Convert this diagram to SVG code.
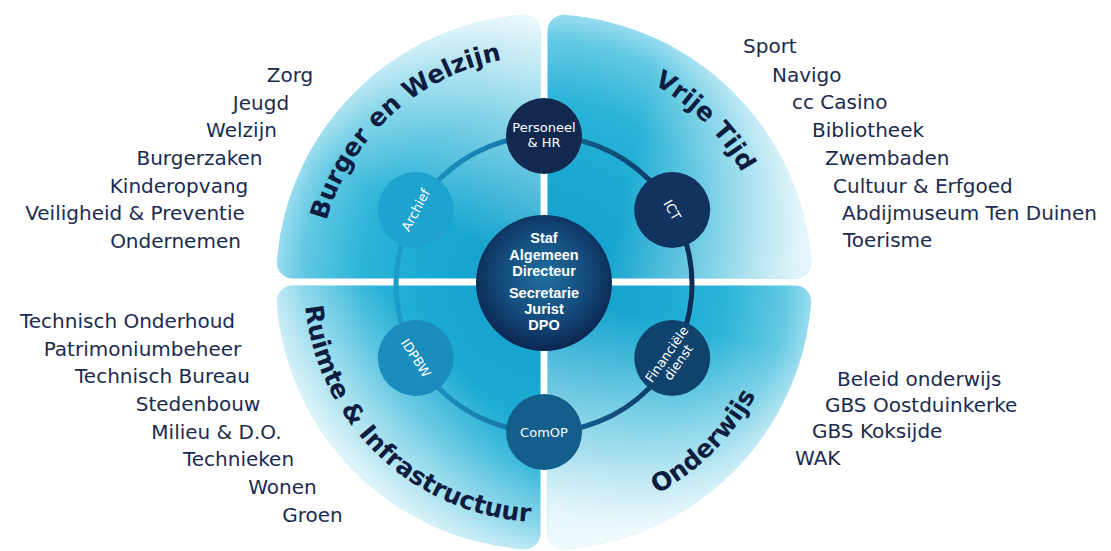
<svg xmlns="http://www.w3.org/2000/svg" width="1111" height="551" viewBox="0 0 1111 551">
<defs>
<style>
.list{font-family:"DejaVu Sans","Liberation Sans",sans-serif;font-size:20px;fill:#1b2b4f}
.arc{font-family:"DejaVu Sans","Liberation Sans",sans-serif;font-size:25px;font-weight:bold;fill:#0e1c40}
.nt{font-family:"DejaVu Sans","Liberation Sans",sans-serif;font-size:13px;fill:#ffffff;text-anchor:middle}
.ct{font-family:"Liberation Sans","DejaVu Sans",sans-serif;font-size:14.5px;font-weight:bold;fill:#ffffff;text-anchor:middle}
.q{fill:url(#qg)}
</style>
<radialGradient id="qg" gradientUnits="userSpaceOnUse" cx="544" cy="282" r="268">
<stop offset="0" stop-color="#139fcb"/>
<stop offset="0.4" stop-color="#19a8d1"/>
<stop offset="0.68" stop-color="#2cb4d8"/>
<stop offset="0.9" stop-color="#62c9e3"/>
<stop offset="1" stop-color="#98dcee"/>
</radialGradient>
<linearGradient id="oTL" gradientUnits="userSpaceOnUse" x1="430" y1="220" x2="530" y2="20">
<stop offset="0" stop-color="#fff" stop-opacity="0"/><stop offset="1" stop-color="#fff" stop-opacity="0.8"/>
</linearGradient>
<linearGradient id="oTR" gradientUnits="userSpaceOnUse" x1="630" y1="170" x2="805" y2="210">
<stop offset="0" stop-color="#fff" stop-opacity="0"/><stop offset="1" stop-color="#fff" stop-opacity="0.75"/>
</linearGradient>
<linearGradient id="oBR" gradientUnits="userSpaceOnUse" x1="700" y1="330" x2="650" y2="535">
<stop offset="0" stop-color="#fff" stop-opacity="0"/><stop offset="1" stop-color="#fff" stop-opacity="0.85"/>
</linearGradient>
<linearGradient id="oBL" gradientUnits="userSpaceOnUse" x1="450" y1="360" x2="320" y2="480">
<stop offset="0" stop-color="#fff" stop-opacity="0"/><stop offset="1" stop-color="#fff" stop-opacity="0.85"/>
</linearGradient>
<linearGradient id="ringG" gradientUnits="userSpaceOnUse" x1="396" y1="284" x2="692" y2="284">
<stop offset="0" stop-color="#1b9cc9"/><stop offset="0.5" stop-color="#156f9f"/><stop offset="1" stop-color="#0d2b55"/>
</linearGradient>
<radialGradient id="cg" cx="0.5" cy="0.45" r="0.55">
<stop offset="0" stop-color="#206f9f"/><stop offset="0.6" stop-color="#144a7b"/><stop offset="1" stop-color="#0a2650"/>
</radialGradient>
<path id="pTL" d="M321.4,242.8 A226,226 0 0 1 524.3,56.9"/>
<path id="pTR" d="M583.2,59.4 A226,226 0 0 1 766.6,242.8"/>
<path id="pBR" d="M585.7,518.4 A240,240 0 0 0 780.4,323.7"/>
<path id="pBL" d="M304,282 A240,240 0 0 0 554.9,521.8"/>
</defs>
<rect width="1111" height="551" fill="#ffffff"/>

<g id="quadrant-burger">
<path class="q" d="M540.5,278.5 H292.76 A16,16 0 0 1 276.81,261.26 A268,268 0 0 1 523.26,14.81 A16,16 0 0 1 540.5,30.76 Z"/>
<path fill="url(#oTL)" d="M540.5,278.5 H292.76 A16,16 0 0 1 276.81,261.26 A268,268 0 0 1 523.26,14.81 A16,16 0 0 1 540.5,30.76 Z"/>
<text class="arc"><textPath href="#pTL" startOffset="50%" text-anchor="middle">Burger en Welzijn</textPath></text>
</g>
<g id="quadrant-vrijetijd">
<path class="q" d="M547.5,278.5 V30.76 A16,16 0 0 1 564.74,14.81 A268,268 0 0 1 811.19,261.26 A16,16 0 0 1 795.24,278.5 Z"/>
<path fill="url(#oTR)" d="M547.5,278.5 V30.76 A16,16 0 0 1 564.74,14.81 A268,268 0 0 1 811.19,261.26 A16,16 0 0 1 795.24,278.5 Z"/>
<text class="arc"><textPath href="#pTR" startOffset="50%" text-anchor="middle">Vrije Tijd</textPath></text>
</g>
<g id="quadrant-onderwijs">
<path class="q" d="M547.5,285.5 H795.24 A16,16 0 0 1 811.19,302.74 A268,268 0 0 1 564.74,549.19 A16,16 0 0 1 547.5,533.24 Z"/>
<path fill="url(#oBR)" d="M547.5,285.5 H795.24 A16,16 0 0 1 811.19,302.74 A268,268 0 0 1 564.74,549.19 A16,16 0 0 1 547.5,533.24 Z"/>
<text class="arc"><textPath href="#pBR" startOffset="50%" text-anchor="middle">Onderwijs</textPath></text>
</g>
<g id="quadrant-ruimte">
<path class="q" d="M540.5,285.5 V533.24 A16,16 0 0 1 523.26,549.19 A268,268 0 0 1 276.81,302.74 A16,16 0 0 1 292.76,285.5 Z"/>
<path fill="url(#oBL)" d="M540.5,285.5 V533.24 A16,16 0 0 1 523.26,549.19 A268,268 0 0 1 276.81,302.74 A16,16 0 0 1 292.76,285.5 Z"/>
<text class="arc"><textPath href="#pBL" startOffset="50%" text-anchor="middle">Ruimte &amp; Infrastructuur</textPath></text>
</g>

<g id="connectors">
<circle cx="544" cy="284" r="148" fill="none" stroke="url(#ringG)" stroke-width="5"/>
</g>

<g id="node-staf">
<circle cx="544" cy="283" r="68" fill="url(#cg)"/>
<text class="ct" x="544" y="243">Staf</text>
<text class="ct" x="544" y="260">Algemeen</text>
<text class="ct" x="544" y="276">Directeur</text>
<text class="ct" x="544" y="298">Secretarie</text>
<text class="ct" x="544" y="314">Jurist</text>
<text class="ct" x="544" y="330">DPO</text>
</g>
<g id="node-personeel">
<circle cx="544" cy="136" r="38" fill="#13284f"/>
<text class="nt" x="544" y="132" font-size="13.5">Personeel</text>
<text class="nt" x="544" y="147" font-size="13.5">&amp; HR</text>
</g>
<g id="node-ict">
<circle cx="672.2" cy="210" r="38" fill="#12335f"/>
<text class="nt" transform="translate(672.2,210) rotate(60)" x="0" y="4.5">ICT</text>
</g>
<g id="node-financiele">
<circle cx="672.2" cy="358" r="38" fill="#10426e"/>
<g transform="translate(672.2,358) rotate(-55)">
<text class="nt" x="0" y="-2" font-size="12.5">Financiële</text>
<text class="nt" x="0" y="12" font-size="12.5">dienst</text>
</g>
</g>
<g id="node-comop">
<circle cx="544" cy="432" r="38" fill="#145e8c"/>
<text class="nt" x="544" y="437">ComOP</text>
</g>
<g id="node-idpbw">
<circle cx="415.8" cy="358" r="38" fill="#1a8dbd"/>
<text class="nt" transform="translate(415.8,358) rotate(57)" x="0" y="4.5" font-size="12">IDPBW</text>
</g>
<g id="node-archief">
<circle cx="415.8" cy="210" r="38" fill="#1ea3ce"/>
<text class="nt" transform="translate(415.8,210) rotate(-62)" x="0" y="4.5">Archief</text>
</g>

<g id="list-burger" class="list" text-anchor="middle">
<text x="290" y="82">Zorg</text>
<text x="261" y="110">Jeugd</text>
<text x="241.5" y="137">Welzijn</text>
<text x="199.5" y="165">Burgerzaken</text>
<text x="179" y="193">Kinderopvang</text>
<text x="135" y="220">Veiligheid &amp; Preventie</text>
<text x="175.5" y="248">Ondernemen</text>
</g>
<g id="list-vrijetijd" class="list">
<text x="743" y="53">Sport</text>
<text x="772" y="82">Navigo</text>
<text x="792" y="109">cc Casino</text>
<text x="812" y="137">Bibliotheek</text>
<text x="825" y="165">Zwembaden</text>
<text x="833" y="193">Cultuur &amp; Erfgoed</text>
<text x="842" y="220">Abdijmuseum Ten Duinen</text>
<text x="843" y="247">Toerisme</text>
</g>
<g id="list-ruimte" class="list" text-anchor="middle">
<text x="127.5" y="328">Technisch Onderhoud</text>
<text x="142.5" y="356">Patrimoniumbeheer</text>
<text x="162.5" y="383">Technisch Bureau</text>
<text x="198" y="411">Stedenbouw</text>
<text x="216.5" y="439">Milieu &amp; D.O.</text>
<text x="238.5" y="466">Technieken</text>
<text x="282.5" y="494">Wonen</text>
<text x="312.5" y="522">Groen</text>
</g>
<g id="list-onderwijs" class="list">
<text x="837" y="386">Beleid onderwijs</text>
<text x="825" y="412">GBS Oostduinkerke</text>
<text x="812" y="438">GBS Koksijde</text>
<text x="795" y="465">WAK</text>
</g>
</svg>
